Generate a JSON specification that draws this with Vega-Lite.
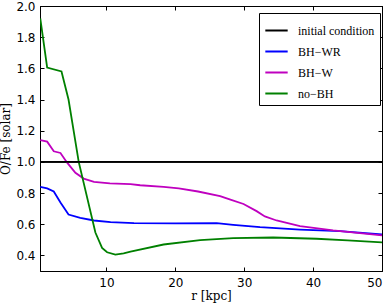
{
  "$schema": "https://vega.github.io/schema/vega-lite/v6.json",
  "autosize": "none",
  "width": 342,
  "height": 265,
  "padding": {"left": 40, "top": 6, "right": 8, "bottom": 32},
  "config": {
    "view": {"stroke": "black", "strokeWidth": 1},
    "axis": {"grid": false, "domainColor": "black", "tickColor": "black", "tickSize": -4, "labelFont": "DejaVu Sans", "labelFontSize": 12, "labelColor": "black", "titleFont": "DejaVu Serif", "titleFontSize": 12, "titleFontWeight": "normal", "titleColor": "black"},
    "legend": {"strokeColor": "black", "fillColor": "white", "padding": 5, "symbolType": "stroke", "symbolSize": 500, "symbolStrokeWidth": 2, "labelFont": "Liberation Serif", "labelFontSize": 12, "labelColor": "black", "rowPadding": 2, "labelOffset": 9, "cornerRadius": 0}
  },
  "data": {"values": [
    {"model": "initial condition", "r": 0.4, "v": 1.0},
    {"model": "initial condition", "r": 50, "v": 1.0},
    {"model": "BH−WR", "r": 0.4, "v": 0.84},
    {"model": "BH−WR", "r": 1.4, "v": 0.83},
    {"model": "BH−WR", "r": 2.36, "v": 0.81},
    {"model": "BH−WR", "r": 3.33, "v": 0.74},
    {"model": "BH−WR", "r": 4.5, "v": 0.662},
    {"model": "BH−WR", "r": 6.2, "v": 0.641},
    {"model": "BH−WR", "r": 8.2, "v": 0.624},
    {"model": "BH−WR", "r": 10.6, "v": 0.613},
    {"model": "BH−WR", "r": 14, "v": 0.607},
    {"model": "BH−WR", "r": 20, "v": 0.605},
    {"model": "BH−WR", "r": 26, "v": 0.607},
    {"model": "BH−WR", "r": 28.4, "v": 0.596},
    {"model": "BH−WR", "r": 32.3, "v": 0.581},
    {"model": "BH−WR", "r": 38.1, "v": 0.566},
    {"model": "BH−WR", "r": 43.9, "v": 0.556},
    {"model": "BH−WR", "r": 50, "v": 0.534},
    {"model": "BH−W", "r": 0.4, "v": 1.14},
    {"model": "BH−W", "r": 1.4, "v": 1.13},
    {"model": "BH−W", "r": 2.36, "v": 1.068},
    {"model": "BH−W", "r": 3.33, "v": 1.057},
    {"model": "BH−W", "r": 4.3, "v": 0.995},
    {"model": "BH−W", "r": 5.5, "v": 0.93},
    {"model": "BH−W", "r": 6.7, "v": 0.893},
    {"model": "BH−W", "r": 8.2, "v": 0.872},
    {"model": "BH−W", "r": 10.5, "v": 0.862},
    {"model": "BH−W", "r": 13.5, "v": 0.857},
    {"model": "BH−W", "r": 14.9, "v": 0.85},
    {"model": "BH−W", "r": 18.3, "v": 0.84},
    {"model": "BH−W", "r": 20.5, "v": 0.83},
    {"model": "BH−W", "r": 23.3, "v": 0.81},
    {"model": "BH−W", "r": 26.5, "v": 0.78},
    {"model": "BH−W", "r": 28, "v": 0.758},
    {"model": "BH−W", "r": 29.9, "v": 0.73},
    {"model": "BH−W", "r": 31.8, "v": 0.684},
    {"model": "BH−W", "r": 33, "v": 0.65},
    {"model": "BH−W", "r": 34.7, "v": 0.624},
    {"model": "BH−W", "r": 38.1, "v": 0.588},
    {"model": "BH−W", "r": 42.9, "v": 0.56},
    {"model": "BH−W", "r": 50, "v": 0.528},
    {"model": "no−BH", "r": 0.4, "v": 1.92},
    {"model": "no−BH", "r": 1.4, "v": 1.605},
    {"model": "no−BH", "r": 3.48, "v": 1.58},
    {"model": "no−BH", "r": 4.5, "v": 1.4},
    {"model": "no−BH", "r": 5.98, "v": 1.0},
    {"model": "no−BH", "r": 8.4, "v": 0.547},
    {"model": "no−BH", "r": 9.37, "v": 0.448},
    {"model": "no−BH", "r": 10.1, "v": 0.42},
    {"model": "no−BH", "r": 11.3, "v": 0.405},
    {"model": "no−BH", "r": 12.5, "v": 0.413},
    {"model": "no−BH", "r": 13.5, "v": 0.425},
    {"model": "no−BH", "r": 18.3, "v": 0.47},
    {"model": "no−BH", "r": 23.6, "v": 0.498},
    {"model": "no−BH", "r": 28.4, "v": 0.511},
    {"model": "no−BH", "r": 34.2, "v": 0.515},
    {"model": "no−BH", "r": 40.5, "v": 0.507},
    {"model": "no−BH", "r": 45, "v": 0.497},
    {"model": "no−BH", "r": 50, "v": 0.483}
  ]},
  "layer": [
    {
      "mark": {"type": "line", "strokeWidth": 1.8, "clip": true},
      "encoding": {
        "x": {"field": "r", "type": "quantitative", "scale": {"domain": [0.36, 50], "nice": false, "zero": false}, "axis": {"values": [10, 20, 30, 40, 50], "title": "r [kpc]", "labelPadding": 10, "titlePadding": 2}},
        "y": {"field": "v", "type": "quantitative", "scale": {"domain": [0.3, 2.0], "nice": false, "zero": false}, "axis": {"values": [0.4, 0.6, 0.8, 1.0, 1.2, 1.4, 1.6, 1.8, 2.0], "format": ".1f", "title": "O/Fe [solar]", "labelPadding": 9, "titlePadding": 3}},
        "color": {"field": "model", "type": "nominal", "sort": ["initial condition", "BH−WR", "BH−W", "no−BH"], "scale": {"domain": ["initial condition", "BH−WR", "BH−W", "no−BH"], "range": ["#000000", "#0000ff", "#bf00bf", "#008000"]}, "legend": {"title": null, "orient": "none", "legendX": 219, "legendY": 7}}
      }
    },
    {
      "transform": [{"filter": "datum.model === 'initial condition'"}],
      "mark": {"type": "line", "strokeWidth": 1.8, "color": "black"},
      "encoding": {
        "x": {"field": "r", "type": "quantitative", "axis": {"orient": "top", "values": [10, 20, 30, 40, 50], "labels": false, "title": null}},
        "y": {"field": "v", "type": "quantitative", "axis": {"orient": "right", "values": [0.4, 0.6, 0.8, 1.0, 1.2, 1.4, 1.6, 1.8, 2.0], "labels": false, "title": null}}
      }
    }
  ],
  "resolve": {"axis": {"x": "independent", "y": "independent"}}
}
